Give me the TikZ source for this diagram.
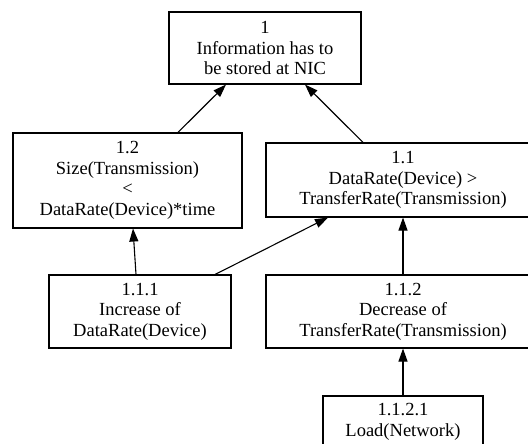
\documentclass[tikz,border=0pt]{standalone}
\usepackage{fontspec}
\setmainfont{Liberation Serif}
\usetikzlibrary{arrows.meta}

\begin{document}
\begin{tikzpicture}[x=1pt,y=-1pt,>={Triangle[length=13pt,width=9pt]},line width=1.1pt]
  \tikzstyle{goal}=[draw,inner sep=0pt,align=center,
    font=\fontsize{18.5}{20.5}\selectfont]
  \clip (0,0) rectangle (528,444);
  \node[goal,minimum width=192pt,minimum height=72pt] (info) at (265,48) {1\\Information has to\\be stored at NIC};
  \node[goal,minimum width=229pt,minimum height=95pt] (size) at (127.5,180.5) {1.2\\Size(Transmission)\\<\\DataRate(Device)*time};
  \node[goal,minimum width=274pt,minimum height=74pt] (rate) at (403,180) {1.1\\DataRate(Device) >\\TransferRate(Transmission)};
  \node[goal,minimum width=182pt,minimum height=73pt] (incr) at (140,311.5) {1.1.1\\Increase of\\DataRate(Device)};
  \node[goal,minimum width=274pt,minimum height=73pt] (decr) at (403,311.5) {1.1.2\\Decrease of\\TransferRate(Transmission)};
  \node[goal,minimum width=160pt,minimum height=52pt] (load) at (403,422) {1.1.2.1\\Load(Network)};
  \draw[->] ([xshift=50.5pt]size.north) -- ([xshift=-39pt]info.south);
  \draw[->] ([xshift=-40pt]rate.north) -- ([xshift=40pt]info.south);
  \draw[->] ([xshift=-4pt]incr.north) -- ([xshift=5.5pt]size.south);
  \draw[->] ([xshift=75pt]incr.north) -- ([xshift=-75pt]rate.south);
  \draw[->] (decr) -- (rate);
  \draw[->] (load) -- (decr);
\end{tikzpicture}
\end{document}
